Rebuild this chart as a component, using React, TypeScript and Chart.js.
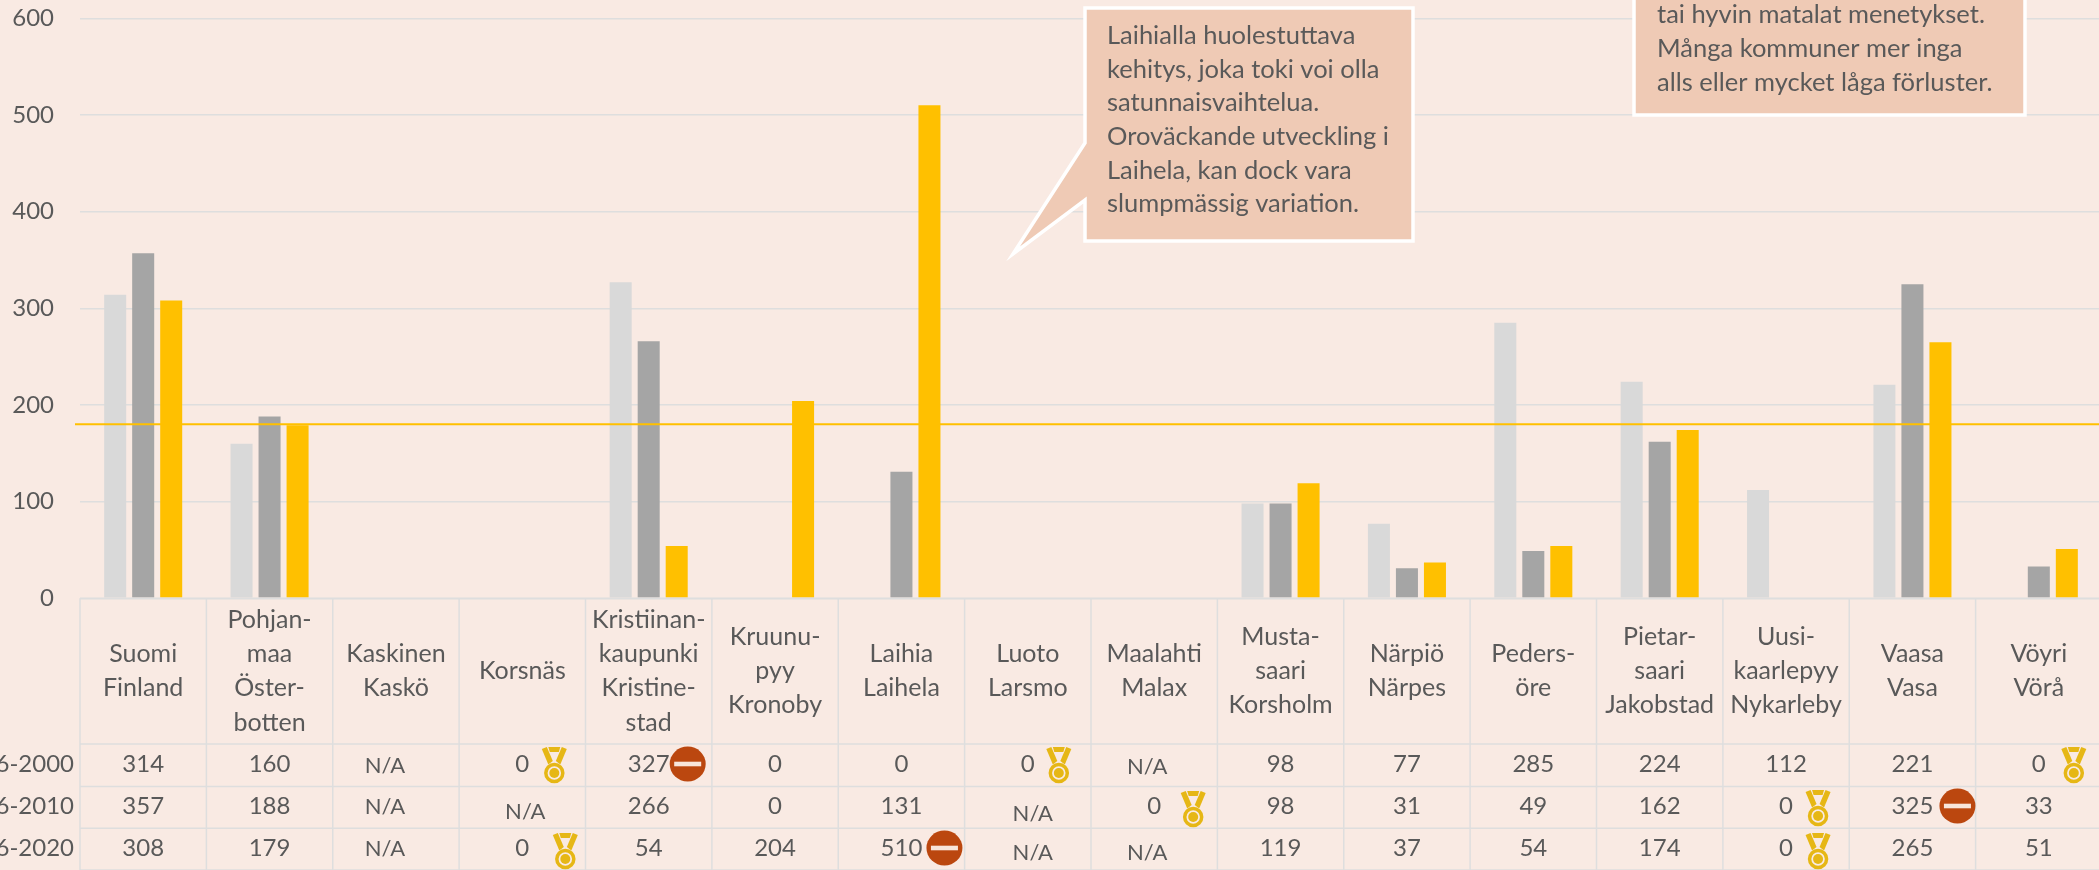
import React, { useEffect, useRef } from "react";
import { Chart, registerables } from "chart.js";

Chart.register(...registerables);

const categories: string[][] = [
  ["Suomi", "Finland"],
  ["Pohjan-", "maa", "Öster-", "botten"],
  ["Kaskinen", "Kaskö"],
  ["Korsnäs"],
  ["Kristiinan-", "kaupunki", "Kristine-", "stad"],
  ["Kruunu-", "pyy", "Kronoby"],
  ["Laihia", "Laihela"],
  ["Luoto", "Larsmo"],
  ["Maalahti", "Malax"],
  ["Musta-", "saari", "Korsholm"],
  ["Närpiö", "Närpes"],
  ["Peders-", "öre"],
  ["Pietar-", "saari", "Jakobstad"],
  ["Uusi-", "kaarlepyy", "Nykarleby"],
  ["Vaasa", "Vasa"],
  ["Vöyri", "Vörå"],
];
const periods = ["6-2000", "6-2010", "6-2020"];
const series1 = [314, 160, null, 0, 327, 0, 0, 0, null, 98, 77, 285, 224, 112, 221, 0];
const series2 = [357, 188, null, null, 266, 0, 131, null, 0, 98, 31, 49, 162, 0, 325, 33];
const series3 = [308, 179, null, 0, 54, 204, 510, null, null, 119, 37, 54, 174, 0, 265, 51];
const allSeries = [series1, series2, series3];
const referenceLine = 180;
const seriesColors = ["#D9D9D9", "#A5A5A5", "#FFC000"];

const callout1 = [
  "Laihialla huolestuttava",
  "kehitys, joka toki voi olla",
  "satunnaisvaihtelua.",
  "Oroväckande utveckling i",
  "Laihela, kan dock vara",
  "slumpmässig variation.",
];
const callout2 = ["tai hyvin matalat menetykset.", "Många kommuner mer inga", "alls eller mycket låga förluster."];

// col, row, dx, y of the loose text boxes and icons in the table
const naPlacement: Record<string, [number, number]> = {
  "2,0": [-11, 766], "2,1": [-11, 807], "2,2": [-11, 849],
  "3,1": [3, 812],
  "7,1": [5, 814], "7,2": [5, 853],
  "8,0": [-7, 767], "8,2": [-7, 853],
};
const medals: [number, number, number][] = [
  [3, 32, 765], [3, 43, 851], [7, 31, 765], [8, 39, 809], [13, 32, 808], [13, 32, 851], [15, 35, 765],
];
const stops: [number, number, number][] = [
  [4, 39, 764], [6, 43, 848], [14, 45, 806],
];

const FONT = "Lato";
const TEXT = "#595959";
const GRID = "#DEDEDE";
const BG = "#F9EAE3";
const FILL = "#EFCAB5";
const MEDAL = "#E6B715";
const STOP = "#BB470F";

function drawMedal(ctx: CanvasRenderingContext2D, x: number, y: number) {
  ctx.save();
  ctx.translate(x, y);
  ctx.fillStyle = MEDAL;
  ctx.strokeStyle = MEDAL;
  for (const s of [-1, 1]) {
    ctx.beginPath();
    ctx.moveTo(s * 12.5, -16);
    ctx.lineTo(s * 7.5, -18);
    ctx.lineTo(s * 1.5, -4);
    ctx.lineTo(s * 6, -0.5);
    ctx.closePath();
    ctx.fill();
  }
  ctx.beginPath();
  ctx.moveTo(-6, -18);
  ctx.lineTo(6, -18);
  ctx.lineTo(4.5, -13);
  ctx.lineTo(-4.5, -13);
  ctx.closePath();
  ctx.fill();
  ctx.lineWidth = 3.5;
  ctx.beginPath();
  ctx.arc(0, 8, 8.5, 0, Math.PI * 2);
  ctx.stroke();
  ctx.beginPath();
  ctx.arc(0, 8, 5, 0, Math.PI * 2);
  ctx.fill();
  ctx.restore();
}

function drawStop(ctx: CanvasRenderingContext2D, x: number, y: number) {
  ctx.save();
  ctx.fillStyle = STOP;
  ctx.beginPath();
  ctx.ellipse(x, y, 18, 17.5, 0, 0, Math.PI * 2);
  ctx.fill();
  ctx.fillStyle = "#F8E5DA";
  ctx.fillRect(x - 13.5, y - 2.3, 27, 4.6);
  ctx.restore();
}

function drawBox(ctx: CanvasRenderingContext2D, points: [number, number][]) {
  ctx.beginPath();
  points.forEach(([x, y], i) => (i ? ctx.lineTo(x, y) : ctx.moveTo(x, y)));
  ctx.closePath();
  ctx.fillStyle = FILL;
  ctx.fill();
  ctx.strokeStyle = "#FFFFFF";
  ctx.lineWidth = 3.5;
  ctx.lineJoin = "miter";
  ctx.stroke();
}

const overlay = {
  id: "overlay",
  afterDatasetsDraw(chart: any) {
    const { ctx, chartArea, scales } = chart;
    const x = scales.x;
    const y = scales.y;
    const step = x.getPixelForValue(1) - x.getPixelForValue(0);
    const left = chartArea.left;
    const right = chartArea.right;
    const rowLines = [y.getPixelForValue(0), 744, 786.5, 828.3, 870];
    const rowText = [764, 806.5, 848.5];

    ctx.save();
    // reference line
    ctx.strokeStyle = "#FFC000";
    ctx.lineWidth = 2;
    ctx.beginPath();
    const ry = y.getPixelForValue(referenceLine);
    ctx.moveTo(left - 5, ry);
    ctx.lineTo(right, ry);
    ctx.stroke();

    // table grid
    ctx.strokeStyle = GRID;
    ctx.lineWidth = 1.5;
    ctx.beginPath();
    for (const ly of rowLines) {
      ctx.moveTo(left, ly);
      ctx.lineTo(right, ly);
    }
    for (let i = 0; i <= categories.length; i++) {
      const lx = x.getPixelForValue(i) - step / 2;
      ctx.moveTo(lx, rowLines[0]);
      ctx.lineTo(lx, rowLines[4]);
    }
    ctx.stroke();

    // header text
    ctx.fillStyle = TEXT;
    ctx.textBaseline = "middle";
    ctx.textAlign = "center";
    ctx.font = `25px ${FONT}`;
    categories.forEach((lines, i) => {
      const cx = x.getPixelForValue(i);
      lines.forEach((t, j) => {
        ctx.fillText(t, cx, 671 + (j - (lines.length - 1) / 2) * 34.3);
      });
    });

    // period labels
    ctx.font = `24px ${FONT}`;
    ctx.textAlign = "right";
    periods.forEach((p, r) => ctx.fillText(p, left - 6, rowText[r]));

    // values
    ctx.textAlign = "center";
    allSeries.forEach((values, r) => {
      values.forEach((v, i) => {
        const cx = x.getPixelForValue(i);
        if (v === null) {
          const [dx, py] = naPlacement[`${i},${r}`] ?? [0, rowText[r]];
          ctx.font = `22px ${FONT}`;
          ctx.fillText("N/A", cx + dx, py);
        } else {
          ctx.font = `24px ${FONT}`;
          ctx.fillText(String(v), cx, rowText[r]);
        }
      });
    });

    medals.forEach(([i, dx, py]) => drawMedal(ctx, x.getPixelForValue(i) + dx, py));
    stops.forEach(([i, dx, py]) => drawStop(ctx, x.getPixelForValue(i) + dx, py));

    // callouts
    drawBox(ctx, [
      [1085, 8], [1413, 8], [1413, 241], [1085, 241], [1085, 200], [1013, 254], [1085, 143],
    ]);
    drawBox(ctx, [[1634, -10], [2025, -10], [2025, 115], [1634, 115]]);
    ctx.fillStyle = TEXT;
    ctx.textAlign = "left";
    ctx.font = `25.5px ${FONT}`;
    callout1.forEach((t, i) => ctx.fillText(t, 1107, 36 + i * 33.6));
    callout2.forEach((t, i) => ctx.fillText(t, 1657, 15 + i * 34));
    ctx.restore();
  },
};

export default function App() {
  const ref = useRef<HTMLCanvasElement>(null);
  useEffect(() => {
    const chart = new Chart(ref.current as HTMLCanvasElement, {
      type: "bar",
      data: {
        labels: categories.map((c) => c.join(" ")),
        datasets: allSeries.map((data, i) => ({
          label: periods[i],
          data,
          backgroundColor: seriesColors[i],
          categoryPercentage: 0.665,
          barPercentage: 0.786,
        })),
      },
      options: {
        responsive: false,
        devicePixelRatio: 1,
        animation: false,
        layout: { padding: { top: 18.3, bottom: 271.7, left: 0, right: 0 } },
        plugins: { legend: { display: false }, tooltip: { enabled: false } },
        scales: {
          x: { display: false },
          y: {
            min: 0,
            max: 600,
            afterFit: (s: any) => {
              s.width = 80;
              s.paddingTop = 0;
              s.paddingBottom = 0;
            },
            border: { display: false },
            grid: { color: GRID, lineWidth: 1.5, drawTicks: false },
            ticks: {
              stepSize: 100,
              padding: 26,
              color: TEXT,
              font: { family: FONT, size: 24 },
            },
          },
        },
      },
      plugins: [overlay],
    } as any);
    return () => chart.destroy();
  }, []);
  return (
    <div style={{ position: "fixed", left: 0, top: 0, width: 2099, height: 870, overflow: "hidden", background: BG }}>
      <canvas ref={ref} width={2102} height={870} style={{ display: "block", width: 2102, height: 870 }} />
    </div>
  );
}
